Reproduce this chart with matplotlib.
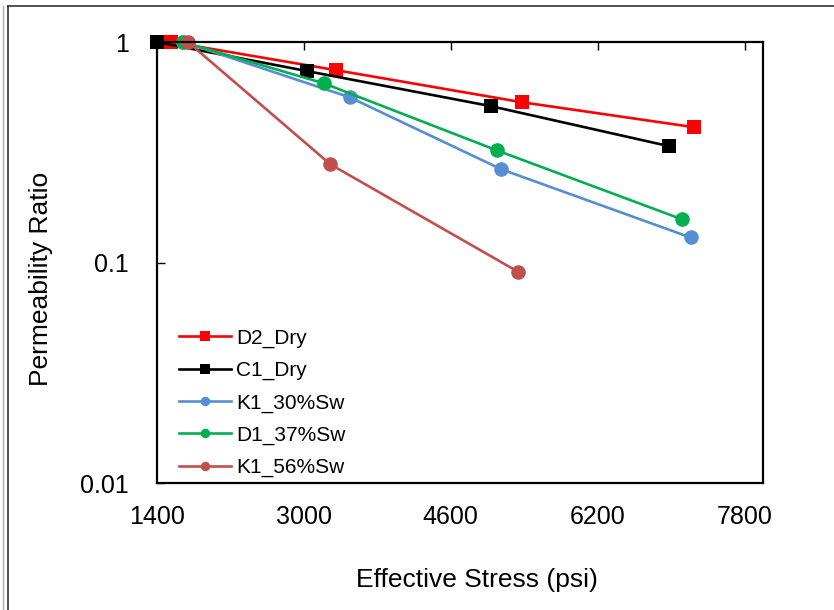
import matplotlib
matplotlib.use('Agg')
import matplotlib.pyplot as plt
from matplotlib.lines import Line2D
from matplotlib.ticker import FixedLocator, NullLocator, FixedFormatter

plt.rcParams.update({'font.family': ['Liberation Sans', 'DejaVu Sans']})

# stress (psi) and permeability ratio
d2_x = [1560, 3350, 5370, 7250]
d2_y = [1.0, 0.746, 0.534, 0.411]
c1_x = [1400, 3040, 5040, 6980]
c1_y = [1.0, 0.738, 0.512, 0.337]
k130_x = [1690, 3500, 5150, 7210]
k130_y = [1.0, 0.562, 0.265, 0.130]
d137_x = [1685, 3215, 5100, 7120]
d137_y = [1.0, 0.651, 0.323, 0.157]
k156_x = [1740, 3290, 5330]
k156_y = [1.0, 0.279, 0.091]

series = [
    ('D2_Dry', d2_x, d2_y, '#FF0000', 's'),
    ('C1_Dry', c1_x, c1_y, '#000000', 's'),
    ('K1_30%Sw', k130_x, k130_y, '#558ED5', 'o'),
    ('D1_37%Sw', d137_x, d137_y, '#00B050', 'o'),
    ('K1_56%Sw', k156_x, k156_y, '#C0504D', 'o'),
]

x_ticks = [1400, 3000, 4600, 6200, 7800]
y_ticks = [0.01, 0.1, 1]
y_tick_labels = ['0.01', '0.1', '1']

fig = plt.figure(figsize=(8.34, 6.10), dpi=100)
ax = fig.add_axes([0.188, 0.208, 0.727, 0.723])

for name, xs, ys, col, mk in series:
    ax.plot(xs, ys, color=col, marker=mk, markersize=10.5, linewidth=1.9,
            markeredgewidth=0, label=name, clip_on=False)

ax.set_yscale('log')
ax.set_ylim(0.01, 1)
ax.set_xlim(1400, 8000)
ax.xaxis.set_major_locator(FixedLocator(x_ticks))
ax.yaxis.set_major_locator(FixedLocator(y_ticks))
ax.yaxis.set_major_formatter(FixedFormatter(y_tick_labels))
ax.yaxis.set_minor_locator(NullLocator())

for sp in ax.spines.values():
    sp.set_linewidth(1.6)

ax.tick_params(axis='x', direction='in', top=True, bottom=False,
               labelbottom=True, labeltop=False, length=6, width=1,
               labelsize=18, pad=16)
ax.tick_params(axis='y', direction='in', length=6, width=1,
               labelsize=18, pad=20)

ax.set_xlabel('Effective Stress (psi)', fontsize=19)
ax.set_ylabel('Permeability Ratio', fontsize=19)
ax.xaxis.set_label_coords(0.528, -0.193)
ax.yaxis.set_label_coords(-0.172, 0.463)

ax.legend(loc='lower left', bbox_to_anchor=(0.012, -0.02), frameon=False,
          fontsize=15, handlelength=2.5, handletextpad=0.25,
          labelspacing=0.63, markerscale=0.65, borderaxespad=0.3)

# outer chart frame (top and left edges only, as in the reference)
fig.add_artist(Line2D([8 / 834, 1], [1 - 6 / 610, 1 - 6 / 610],
                      color='#333333', linewidth=1.2, transform=fig.transFigure))
fig.add_artist(Line2D([8 / 834, 8 / 834], [0, 1 - 6 / 610],
                      color='#333333', linewidth=1.2, transform=fig.transFigure))
fig.add_artist(Line2D([3 / 834, 3 / 834], [0, 1 - 6 / 610],
                      color='#aaaaaa', linewidth=1.0, transform=fig.transFigure))

fig.savefig('out.png', dpi=100)
plt.close(fig)
